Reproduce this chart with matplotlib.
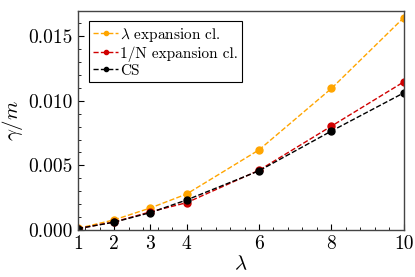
import matplotlib
matplotlib.use('Agg')
import matplotlib.pyplot as plt
from matplotlib.ticker import MultipleLocator, FormatStrFormatter

plt.rcParams['font.family'] = 'serif'
plt.rcParams['font.serif'] = ['cmr10']
plt.rcParams['mathtext.fontset'] = 'cm'
plt.rcParams['axes.unicode_minus'] = False

# data
lam = [1, 2, 3, 4, 6, 8, 10]
lam_exp = [0.00012, 0.00078, 0.0017, 0.00278, 0.0062, 0.01096, 0.01645]
n_exp = [0.0001, 0.00062, 0.0014, 0.00211, 0.00462, 0.00804, 0.01147]
cs = [0.0001, 0.0006, 0.00134, 0.00232, 0.00458, 0.00766, 0.01062]
xticks = [1, 2, 3, 4, 6, 8, 10]

fig = plt.figure(figsize=(4.15, 2.77), dpi=100)
ax = fig.add_axes([0.188, 0.170, 0.785, 0.792])

style = dict(linestyle='--', marker='o', markersize=5, linewidth=1.0)
ax.plot(lam, lam_exp, color='#FFA500', label=r'$\lambda$ expansion cl.', **style)
ax.plot(lam, n_exp, color='#D00000', label='1/N expansion cl.', **style)
ax.plot(lam, cs, color='black', label='CS', **style)

ax.set_xlim(1, 10)
ax.set_ylim(0, 0.017)
ax.set_xticks(xticks)
ax.set_xticklabels([str(v) for v in xticks])
ax.xaxis.set_minor_locator(MultipleLocator(0.4))
ax.yaxis.set_major_locator(MultipleLocator(0.005))
ax.yaxis.set_minor_locator(MultipleLocator(0.001))
ax.yaxis.set_major_formatter(FormatStrFormatter('%.3f'))
ax.tick_params(which='both', direction='in', labelsize=14)
ax.tick_params(which='major', length=4, width=0.8, pad=4)
ax.tick_params(which='minor', length=2, width=0.6)
for s in ax.spines.values():
    s.set_color('#444444')
    s.set_linewidth(1.0)

ax.set_xlabel(r'$\lambda$', fontsize=15, labelpad=1)
ax.set_ylabel(r'$\gamma/m$', fontsize=15, labelpad=2)

leg = ax.legend(loc='upper left', fontsize=11, fancybox=False, framealpha=1,
                edgecolor='black', handlelength=1.6, handletextpad=0.15,
                labelspacing=0.15, borderpad=0.3, borderaxespad=0.7,
                markerscale=0.6)
leg.get_frame().set_linewidth(0.8)

fig.savefig('out.png', dpi=100)
